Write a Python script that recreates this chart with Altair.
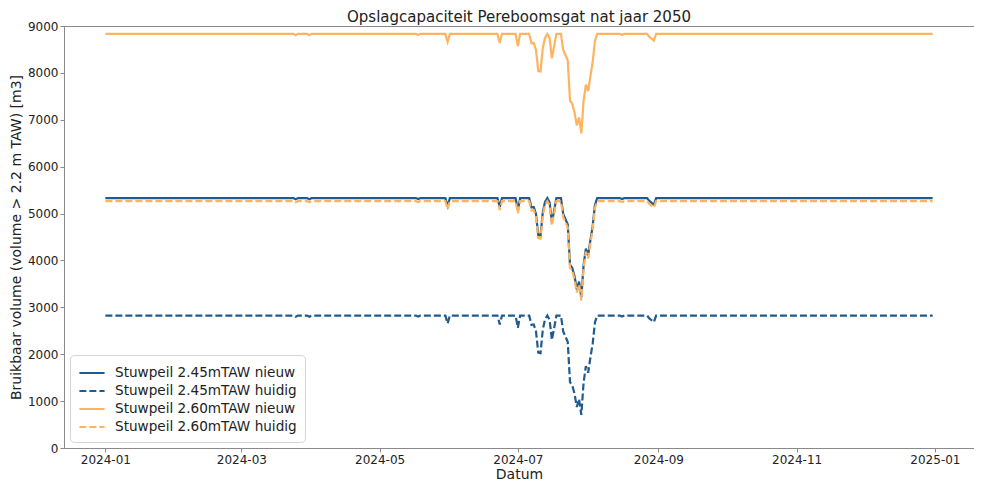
import altair as alt
import pandas as pd

# Dates at which the series change (daily data; flat segments between)
dates = [
    "2024-01-01", "2024-03-24", "2024-03-25", "2024-03-26", "2024-03-30", "2024-03-31", "2024-04-01",
    "2024-05-17", "2024-05-18", "2024-05-19", "2024-05-30", "2024-05-31", "2024-06-01",
    "2024-06-22", "2024-06-23", "2024-06-24", "2024-06-30", "2024-07-01", "2024-07-02",
    "2024-07-06", "2024-07-07", "2024-07-08", "2024-07-09", "2024-07-10", "2024-07-11", "2024-07-12",
    "2024-07-13", "2024-07-14", "2024-07-15", "2024-07-16", "2024-07-17", "2024-07-18",
    "2024-07-20", "2024-07-21", "2024-07-22", "2024-07-23", "2024-07-24", "2024-07-25", "2024-07-26",
    "2024-07-27", "2024-07-28", "2024-07-29", "2024-07-30", "2024-07-31", "2024-08-01", "2024-08-02",
    "2024-08-03", "2024-08-04", "2024-08-05", "2024-08-15", "2024-08-16", "2024-08-17",
    "2024-08-27", "2024-08-28", "2024-08-29", "2024-08-30", "2024-08-31", "2024-12-31",
]

stuw245_nieuw = [
    5330, 5330, 5305, 5330, 5330, 5305, 5330, 5330, 5310, 5330, 5330, 5160, 5330,
    5330, 5140, 5330, 5330, 5070, 5330, 5330, 5130, 5140, 4990, 4540, 4530, 5030,
    5250, 5330, 5240, 4810, 5060, 5330, 5330, 4990, 4880, 4770, 3910, 3840, 3660,
    3380, 3550, 3210, 3900, 4250, 4110, 4430, 4730, 5180, 5330, 5330, 5310, 5330,
    5330, 5270, 5230, 5190, 5330, 5330,
]
stuw245_huidig = [
    2825, 2825, 2800, 2825, 2825, 2800, 2825, 2825, 2805, 2825, 2825, 2655, 2825,
    2825, 2635, 2825, 2825, 2565, 2825, 2825, 2625, 2635, 2485, 2035, 2025, 2525,
    2745, 2825, 2735, 2305, 2555, 2825, 2825, 2485, 2375, 2265, 1405, 1335, 1155,
    875, 1045, 705, 1395, 1745, 1605, 1925, 2225, 2675, 2825, 2825, 2805, 2825,
    2825, 2765, 2725, 2685, 2825, 2825,
]
stuw260_nieuw = [
    8830, 8830, 8805, 8830, 8830, 8805, 8830, 8830, 8810, 8830, 8830, 8660, 8830,
    8830, 8640, 8830, 8830, 8570, 8830, 8830, 8630, 8640, 8490, 8040, 8030, 8530,
    8750, 8830, 8740, 8310, 8560, 8830, 8830, 8490, 8380, 8270, 7410, 7340, 7160,
    6880, 7050, 6710, 7400, 7750, 7610, 7930, 8230, 8680, 8830, 8830, 8810, 8830,
    8830, 8770, 8730, 8690, 8830, 8830,
]
stuw260_huidig = [
    5265, 5265, 5240, 5265, 5265, 5240, 5265, 5265, 5245, 5265, 5265, 5095, 5265,
    5265, 5075, 5265, 5265, 5005, 5265, 5265, 5065, 5075, 4925, 4475, 4465, 4965,
    5185, 5265, 5175, 4745, 4995, 5265, 5265, 4925, 4815, 4705, 3845, 3775, 3595,
    3315, 3485, 3145, 3835, 4185, 4045, 4365, 4665, 5115, 5265, 5265, 5245, 5265,
    5265, 5205, 5165, 5125, 5265, 5265,
]

series_names = [
    "Stuwpeil 2.45mTAW nieuw",
    "Stuwpeil 2.45mTAW huidig",
    "Stuwpeil 2.60mTAW nieuw",
    "Stuwpeil 2.60mTAW huidig",
]
y_ticks = [0, 1000, 2000, 3000, 4000, 5000, 6000, 7000, 8000, 9000]
x_tick_months = [(2024, 1), (2024, 3), (2024, 5), (2024, 7), (2024, 9), (2024, 11), (2025, 1)]

rows = []
for name, vals in zip(series_names, [stuw245_nieuw, stuw245_huidig, stuw260_nieuw, stuw260_huidig]):
    for d, v in zip(dates, vals):
        rows.append({"Datum": d, "Volume": v, "Reeks": name})
df = pd.DataFrame(rows)

BLUE = "#1f5b8e"
ORANGE = "#ffb35e"
FONT = "DejaVu Sans"
GREY = "#8a8a8a"

x_domain = [
    alt.DateTime(year=2023, month=12, date=13, hours=18, utc=True),
    alt.DateTime(year=2025, month=1, date=18, hours=6, utc=True),
]
x_values = [alt.DateTime(year=y, month=m, date=1, utc=True) for y, m in x_tick_months]

chart = (
    alt.Chart(df)
    .mark_line(strokeWidth=2.2, clip=True)
    .encode(
        x=alt.X(
            "Datum:T",
            scale=alt.Scale(type="utc", domain=x_domain),
            axis=alt.Axis(values=x_values, format="%Y-%m", title="Datum", grid=False),
        ),
        y=alt.Y(
            "Volume:Q",
            scale=alt.Scale(domain=[0, 9000], nice=False, zero=True),
            axis=alt.Axis(values=y_ticks, format="d",
                          title="Bruikbaar volume (volume > 2.2 m TAW) [m3]", grid=False),
        ),
        color=alt.Color(
            "Reeks:N",
            scale=alt.Scale(domain=series_names, range=[BLUE, BLUE, ORANGE, ORANGE]),
            legend=alt.Legend(title=None),
        ),
        strokeDash=alt.StrokeDash(
            "Reeks:N",
            scale=alt.Scale(domain=series_names, range=[[1, 0], [7, 3], [1, 0], [7, 3]]),
            legend=alt.Legend(title=None),
        ),
    )
    .properties(
        width=910,
        height=422,
        autosize=alt.AutoSizeParams(type="none"),
        padding={"left": 56, "top": 18, "right": 0, "bottom": 36},
        title=alt.Title(
            "Opslagcapaciteit Pereboomsgat nat jaar 2050",
            font=FONT, fontSize=15, fontWeight="normal", color="#222", offset=5, dy=10,
            anchor="middle",
        ),
    )
    .configure_view(stroke=GREY, strokeWidth=1)
    .configure_axis(
        labelFont=FONT, titleFont=FONT, labelFontSize=12, titleFontSize=14,
        labelColor="#222", titleColor="#222", titleFontWeight="normal",
        domainColor=GREY, tickColor=GREY, tickSize=4, labelPadding=2,
    )
    .configure_axisX(titlePadding=2, labelFlush=False)
    .configure_axisY(titlePadding=4)
    .configure_legend(
        orient="bottom-left", offset=6, fillColor="white", strokeColor="#d5d5d5",
        cornerRadius=4, padding=8, symbolType="M-1.4,0H1.4", symbolStrokeWidth=2,
        symbolSize=324, labelFont=FONT, labelFontSize=13.6, labelColor="#222", rowPadding=1,
        labelOffset=13, symbolOffset=4, labelLimit=400,
    )
)

chart.save("out.html", embed_options={"renderer": "svg", "actions": False})
